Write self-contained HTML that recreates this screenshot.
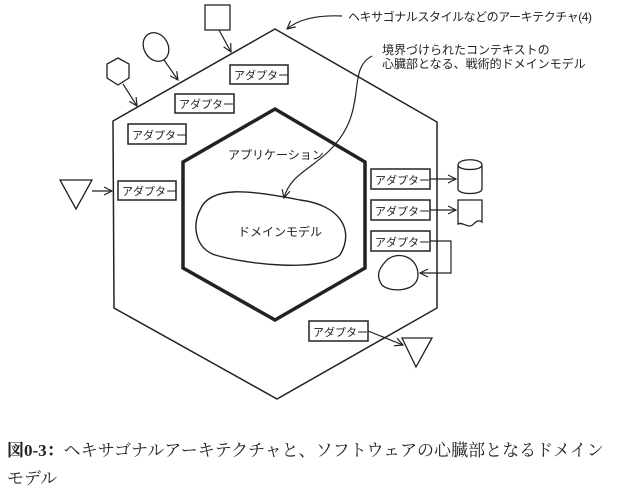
<!DOCTYPE html>
<html><head><meta charset="utf-8"><style>
body{margin:0;background:#fff;}
svg{display:block}
text{fill:#222}
.s{font-family:"Liberation Sans","Noto Sans CJK JP",sans-serif}
.c{font-family:"Liberation Serif","Noto Serif CJK SC",serif}
</style></head><body>
<svg width="623" height="492" viewBox="0 0 623 492" xmlns="http://www.w3.org/2000/svg">
<defs><marker id="a" markerWidth="10" markerHeight="10" refX="9" refY="5" orient="auto" markerUnits="userSpaceOnUse"><path d="M1,1 L9,5 L1,9" fill="none" stroke="#222" stroke-width="1.2"/></marker></defs>
<g fill="none" stroke="#222">
<polygon points="275,29 437,122 437,308 277,399 114,308 113,121" stroke-width="1.5"/>
<polygon points="275,109 365,162 365,268 275,320 183,268 183,162" stroke-width="3.5"/>
<path d="M200,210 C210,185 250,190 300,200 C340,205 355,230 340,255 C320,272 250,265 215,255 C195,248 192,225 200,210 Z" stroke-width="1.4"/>
<path d="M385,262 C395,250 418,255 418,275 C418,292 390,293 382,285 C375,275 380,268 385,262 Z" stroke-width="1.3"/>
<rect x="205" y="5" width="25" height="25" stroke-width="1.3"/>
<ellipse cx="156" cy="47" rx="12" ry="15" transform="rotate(-30 156 47)" stroke-width="1.3"/>
<polygon points="118,58 129,64 129,78 118,85 107,78 107,64" stroke-width="1.3"/>
<polygon points="60,180 92,180 76,209" stroke-width="1.3"/>
<polygon points="402,338 432,338 416,367" stroke-width="1.3"/>
<path d="M458,165 C458,158 482,158 482,165 L482,189 C482,195 458,195 458,189 Z M458,165 C458,171 482,171 482,165" stroke-width="1.3"/>
<path d="M458,200 L482,200 L482,222 C476,218 474,226 470,226 C465,226 462,222 458,224 Z" stroke-width="1.3"/>
<g stroke-width="1.2" marker-end="url(#a)">
<line x1="219" y1="30" x2="231" y2="52"/>
<line x1="164" y1="60" x2="178" y2="80"/>
<line x1="123" y1="84" x2="137" y2="106"/>
<line x1="92" y1="191" x2="112" y2="191"/>
<line x1="430" y1="179" x2="456" y2="179"/>
<line x1="430" y1="210" x2="456" y2="210"/>
<polyline points="430,241 451,241 451,273 420,273"/>
<line x1="368" y1="331" x2="403" y2="345"/>
<path d="M342,16 C320,15 300,18 287,29"/>
<path d="M372,56 C345,70 370,110 330,150 C310,170 290,175 284,198"/>
</g>
<g stroke-width="1.5">
<rect x="230" y="65" width="58" height="19"/>
<rect x="175" y="94" width="59" height="19"/>
<rect x="128" y="124" width="58" height="20"/>
<rect x="118" y="181" width="58" height="19"/>
<rect x="371" y="169" width="59" height="20"/>
<rect x="371" y="200" width="59" height="20"/>
<rect x="371" y="231" width="59" height="20"/>
<rect x="309" y="321" width="59" height="20"/>
</g>
</g>
<g font-size="11" class="s">
<text x="234" y="79">アダプター</text>
<text x="179" y="108">アダプター</text>
<text x="132" y="139">アダプター</text>
<text x="122" y="195">アダプター</text>
<text x="375" y="184">アダプター</text>
<text x="375" y="215">アダプター</text>
<text x="375" y="246">アダプター</text>
<text x="313" y="336">アダプター</text>
<text x="228" y="159" font-size="12">アプリケーション</text>
<text x="238" y="236" font-size="12">ドメインモデル</text>
<text x="348" y="21" font-size="12" textLength="244">ヘキサゴナルスタイルなどのアーキテクチャ(4)</text>
<text x="382" y="54" font-size="12">境界づけられたコンテキストの</text>
<text x="382" y="68" font-size="12">心臓部となる、戦術的ドメインモデル</text>
</g>
<text class="c" x="7" y="456" font-size="17"><tspan font-weight="bold">図0-3：</tspan><tspan textLength="540">ヘキサゴナルアーキテクチャと、ソフトウェアの心臓部となるドメイン</tspan></text>
<text class="c" x="7" y="484" font-size="17">モデル</text>
</svg>
</body></html>
